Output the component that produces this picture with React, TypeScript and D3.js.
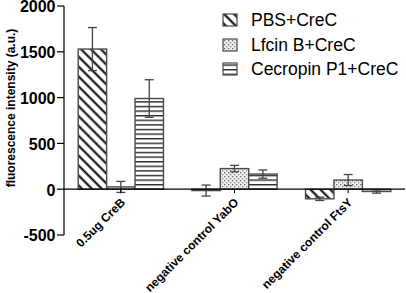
import React from "react";
import * as d3 from "d3";

const categories = ["0.5ug CreB", "negative control YabO", "negative control FtsY"];
const seriesNames = ["PBS+CreC", "Lfcin B+CreC", "Cecropin P1+CreC"];
const pbsValues = [1530, -15, -105];
const pbsErrors = [235, 60, 18];
const lfcinValues = [25, 225, 100];
const lfcinErrors = [60, 35, 60];
const cecropinValues = [990, 165, -25];
const cecropinErrors = [205, 45, 18];
const yTicks = [-500, 0, 500, 1000, 1500, 2000];

const W = 406;
const H = 293;

export default function App() {
  const x = d3
    .scaleBand<string>()
    .domain(categories)
    .range([64, 405])
    .paddingInner(0.25)
    .paddingOuter(0.125);
  const xs = d3.scaleBand<string>().domain(seriesNames).range([0, x.bandwidth()]).padding(0);
  const y = d3.scaleLinear().domain([-500, 2000]).range([235, 6]);

  const values = [pbsValues, lfcinValues, cecropinValues];
  const errors = [pbsErrors, lfcinErrors, cecropinErrors];
  const fills = ["url(#diag)", "url(#dots)", "url(#hlines)"];
  const font = "'Liberation Sans', Arial, Helvetica, sans-serif";
  const barStroke = "#4a4a4a";

  return (
    <svg
      width={W}
      height={H}
      style={{ position: "absolute", left: 0, top: 0, background: "#fff" }}
      fontFamily={font}
    >
      <defs>
        <pattern id="diag" patternUnits="userSpaceOnUse" width="7" height="7" patternTransform="rotate(-45)">
          <rect width="7" height="7" fill="#fff" />
          <line x1="1.5" y1="0" x2="1.5" y2="7" stroke="#000" strokeWidth="2" />
        </pattern>
        <pattern id="dots" patternUnits="userSpaceOnUse" width="4" height="4">
          <rect width="4" height="4" fill="#eeeeee" />
          <rect x="0" y="0" width="1.3" height="1.3" fill="#6a6a6a" />
          <rect x="2" y="2" width="1.3" height="1.3" fill="#8a8a8a" />
        </pattern>
        <pattern id="hlines" patternUnits="userSpaceOnUse" width="6" height="4.6">
          <rect width="6" height="4.6" fill="#fff" />
          <rect x="0" y="0" width="6" height="1.4" fill="#2a2a2a" />
        </pattern>
      </defs>

      {/* bars */}
      {categories.map((c, ci) =>
        seriesNames.map((s, si) => {
          const v = values[si][ci];
          const bx = (x(c) as number) + (xs(s) as number);
          const y0 = y(0);
          const yv = y(v);
          return (
            <rect
              key={c + s}
              x={bx}
              y={Math.min(y0, yv)}
              width={xs.bandwidth()}
              height={Math.abs(yv - y0)}
              fill={fills[si]}
              stroke={barStroke}
              strokeWidth={1.4}
            />
          );
        })
      )}

      {/* error bars */}
      {categories.map((c, ci) =>
        seriesNames.map((s, si) => {
          const v = values[si][ci];
          const e = errors[si][ci];
          const cx = (x(c) as number) + (xs(s) as number) + xs.bandwidth() / 2;
          const yt = y(v + e);
          const yb = y(v - e);
          return (
            <g key={"e" + c + s} stroke="#444" strokeWidth={1.3}>
              <line x1={cx} x2={cx} y1={yt} y2={yb} />
              <line x1={cx - 4.5} x2={cx + 4.5} y1={yt} y2={yt} />
              <line x1={cx - 4.5} x2={cx + 4.5} y1={yb} y2={yb} />
            </g>
          );
        })
      )}

      {/* x axis at zero */}
      <line x1={64} x2={405} y1={y(0)} y2={y(0)} stroke="#000" strokeWidth={1.2} />
      {categories.map((c) => {
        const cx = (x(c) as number) + x.bandwidth() / 2;
        return (
          <g key={"xt" + c}>
            <line x1={cx} x2={cx} y1={y(0)} y2={y(0) + 4} stroke="#000" strokeWidth={1} />
            <text
              transform={`translate(${cx + 2},${y(0) + 11}) rotate(-45)`}
              textAnchor="end"
              dy="0.35em"
              fontSize={12}
              fontWeight="bold"
              fill="#000"
            >
              {c}
            </text>
          </g>
        );
      })}

      {/* y axis */}
      <line x1={64} x2={64} y1={y(2000)} y2={y(-500)} stroke="#000" strokeWidth={1.2} />
      {yTicks.map((t) => (
        <g key={"yt" + t}>
          <line x1={57} x2={64} y1={y(t)} y2={y(t)} stroke="#000" strokeWidth={1.2} />
          <text
            x={55.5}
            y={y(t)}
            dy="0.4em"
            textAnchor="end"
            fontSize={16}
            fontWeight="bold"
            fill="#000"
          >
            {t}
          </text>
        </g>
      ))}
      <text
        transform={`translate(15,108) rotate(-90)`}
        textAnchor="middle"
        fontSize={12}
        fontWeight="bold"
        fill="#000"
      >
        fluorescence intensity (a.u.)
      </text>

      {/* legend */}
      {seriesNames.map((s, si) => {
        const cy = [20, 45, 69][si];
        return (
          <g key={"lg" + s}>
            <rect x={223} y={cy - 6} width={14} height={12} fill={fills[si]} stroke={barStroke} strokeWidth={1.2} />
            <text x={251} y={cy} dy="0.36em" fontSize={17.5} fill="#000">
              {s}
            </text>
          </g>
        );
      })}
    </svg>
  );
}
